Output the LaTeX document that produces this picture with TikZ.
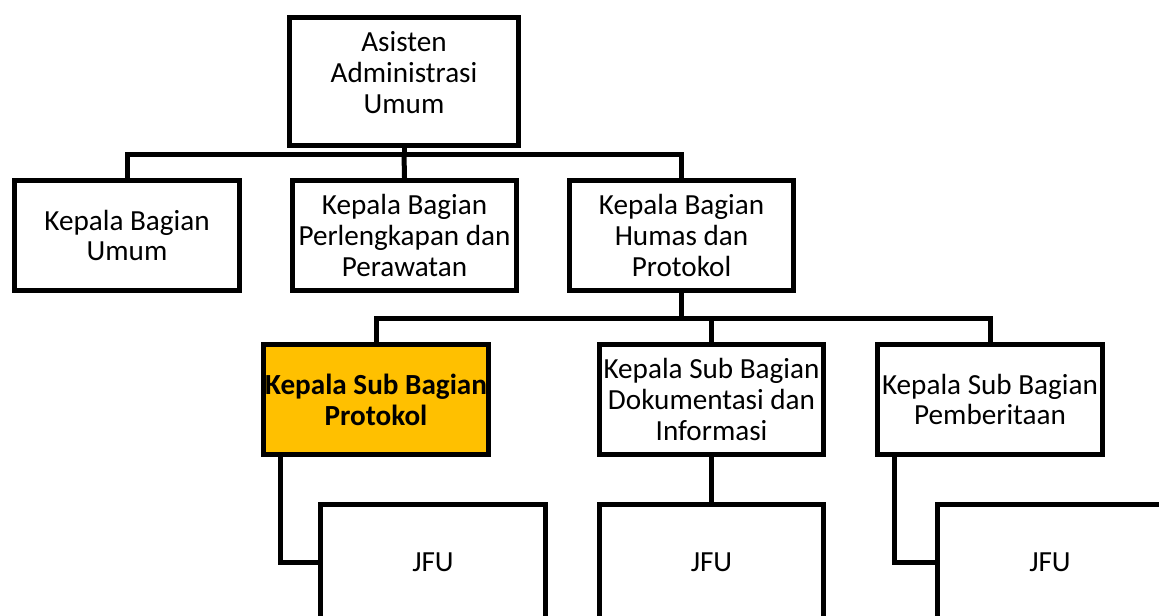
\documentclass[tikz,border=0pt]{standalone}
\usepackage{fontspec}
\setmainfont{Carlito}
\definecolor{protokolorange}{HTML}{FFC000}
\tikzset{
  unitbox/.style={draw, line width=0.1cm, fill=white, inner sep=0pt, align=center,
    minimum width=4.5cm, minimum height=2.2cm, font=\fontsize{16.6}{17.6}\selectfont},
  topbox/.style={unitbox, minimum width=4.58cm, minimum height=2.56cm, text depth=0.36cm},
  jfubox/.style={unitbox, minimum height=2.3cm},
  link/.style={line width=0.1cm}
}
\begin{document}
\begin{tikzpicture}[x=0.02cm,y=-0.02cm]
\useasboundingbox (0,0) rectangle (1159,615);
\clip (0,0) rectangle (1159,615);
%%% top of the chart
\node[topbox] (asisten) at (404,81.5) {Asisten\\Administrasi\\Umum};
%%% the three Kepala Bagian
\node[unitbox] (umum) at (127,235.5) {Kepala Bagian\\Umum};
\node[unitbox] (perlengkapan) at (404.5,235.5) {Kepala Bagian\\Perlengkapan dan\\Perawatan};
\node[unitbox] (humas) at (681.5,235.5) {Kepala Bagian\\Humas dan\\Protokol};
%%% the sub bagian under Humas dan Protokol
\node[unitbox, fill=protokolorange, font=\fontsize{16.6}{17.6}\selectfont\bfseries] (protokol) at (376,399.5) {Kepala Sub Bagian\\Protokol};
\node[unitbox] (dokumentasi) at (711.5,399.5) {Kepala Sub Bagian\\Dokumentasi dan\\Informasi};
\node[unitbox] (pemberitaan) at (990,399.5) {Kepala Sub Bagian\\Pemberitaan};
%%% JFU row, cut by the page
\node[jfubox] (jfu1) at (433,562) {JFU};
\node[jfubox] (jfu2) at (711.5,562) {JFU};
\node[jfubox] (jfu3) at (1050,562) {JFU};
%%% connectors
\coordinate (busA) at (404,154);
\coordinate (busB) at (681.5,318);
\draw[link] (asisten.south) -- (busA);
\draw[link] (umum.north) |- (busA) -| (humas.north);
\draw[link] (busA) -- (perlengkapan.north);
\draw[link] (humas.south) -- (busB);
\draw[link] (protokol.north) |- (busB) -| (pemberitaan.north);
\draw[link] (dokumentasi.north) -- (dokumentasi.north |- busB);
\draw[link] ([xshift=0.39cm]protokol.south west) |- (jfu1.west);
\draw[link] (dokumentasi.south) -- (jfu2.north);
\draw[link] ([xshift=0.39cm]pemberitaan.south west) |- (jfu3.west);
\end{tikzpicture}
\end{document}
